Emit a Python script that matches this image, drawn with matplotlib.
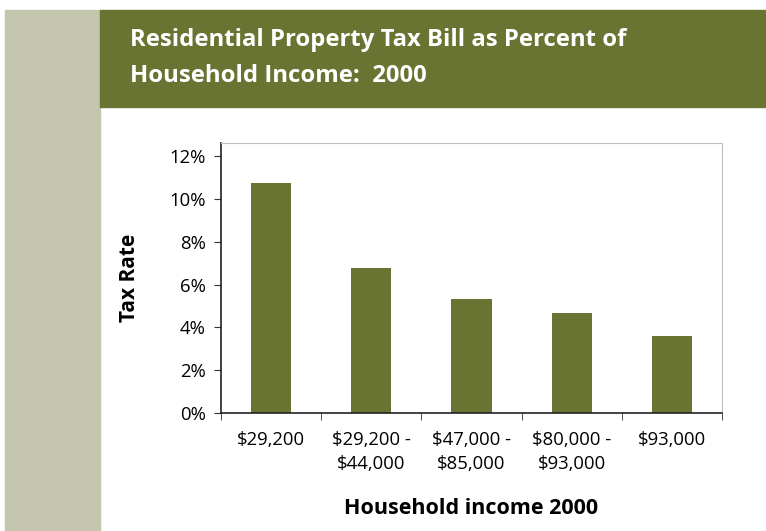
import matplotlib
matplotlib.use("Agg")
from matplotlib import pyplot as plt
from matplotlib.patches import Rectangle
from matplotlib.ticker import PercentFormatter, FixedLocator

# data
categories = ["$29,200", "$29,200 -\n$44,000", "$47,000 -\n$85,000",
              "$80,000 -\n$93,000", "$93,000"]
tax_rate = [10.74, 6.76, 5.31, 4.66, 3.59]
yticks = [0, 2, 4, 6, 8, 10, 12]

title = "Residential Property Tax Bill as Percent of\nHousehold Income:  2000"
green = "#6a7432"
strip = "#c3c6ad"

plt.rcParams["font.family"] = ["Open Sans", "DejaVu Sans"]

W, H = 766, 531
fig = plt.figure(figsize=(W / 100, H / 100), dpi=100)

# side strip and header band (figure pixel coords -> fraction)
fig.patches.append(Rectangle((5 / W, 0), 95 / W, 1 - 10 / H, transform=fig.transFigure,
                             color=strip, zorder=0))
fig.patches.append(Rectangle((100 / W, 1 - 107 / H), 666 / W, 97 / H, transform=fig.transFigure,
                             color=green, zorder=0))
fig.text(130 / W, 1 - 58 / H, title, color="white", fontsize=17.2, fontweight="bold",
         va="center", ha="left", linespacing=1.65)

ax = fig.add_axes([221 / W, 1 - 413 / H, 501 / W, 270 / H])
x = range(len(categories))
ax.bar(x, tax_rate, width=0.4, color=green, zorder=2)
ax.set_xlim(-0.5, len(categories) - 0.5)
ax.set_ylim(0, 12.62)
ax.yaxis.set_major_locator(FixedLocator(yticks))
ax.yaxis.set_major_formatter(PercentFormatter(decimals=0))
ax.set_xticks(list(x))
ax.set_xticklabels(categories, fontsize=13.3, linespacing=1.45, va="top")
ax.tick_params(axis="x", length=0, pad=13)
ax.set_xticks([i - 0.5 for i in range(len(categories) + 1)], minor=True)
ax.tick_params(axis="x", which="minor", length=5, direction="out", color="#333333")
ax.tick_params(axis="y", labelsize=13.3, length=5, direction="out", color="#333333", pad=6)

for s in ("top", "right"):
    ax.spines[s].set_color("#bfbfbf")
for s in ("left", "bottom"):
    ax.spines[s].set_color("#222222")
    ax.spines[s].set_linewidth(1.2)

ax.set_ylabel("Tax Rate", fontsize=15, fontweight="bold", labelpad=21)
ax.set_xlabel("Household income 2000", fontsize=15.5, fontweight="bold", labelpad=18)

fig.savefig("out.png", dpi=100)
